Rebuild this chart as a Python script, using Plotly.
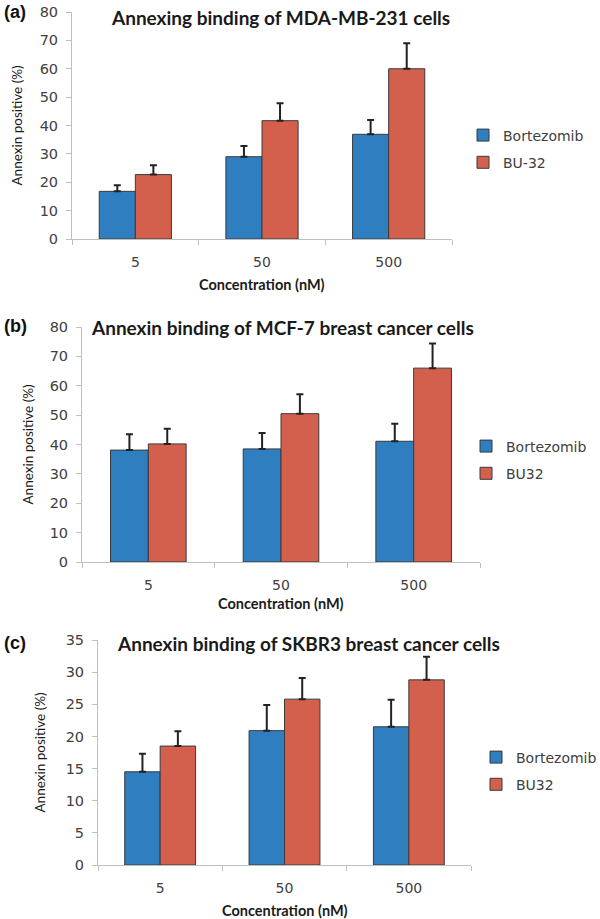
import plotly.graph_objects as go

# ---- data ----
concentrations = ["5", "50", "500"]

a_bortezomib = [16.8, 29.0, 36.9]
a_bortezomib_err = [2.1, 3.8, 5.0]
a_bu = [22.7, 41.7, 60.0]
a_bu_err = [3.3, 6.1, 9.0]

b_bortezomib = [38.1, 38.5, 41.1]
b_bortezomib_err = [5.4, 5.4, 6.0]
b_bu = [40.2, 50.5, 66.0]
b_bu_err = [5.2, 6.6, 8.4]

c_bortezomib = [14.5, 20.9, 21.5]
c_bortezomib_err = [2.8, 4.0, 4.2]
c_bu = [18.5, 25.8, 28.8]
c_bu_err = [2.3, 3.3, 3.6]

titles = ["Annexing binding of MDA-MB-231 cells",
          "Annexin binding of MCF-7 breast cancer cells",
          "Annexin binding of SKBR3 breast cancer cells"]
series2_names = ["BU-32", "BU32", "BU32"]
panel_letters = ["(a)", "(b)", "(c)"]
y_ranges = [[0, 80], [0, 80], [0, 35]]
y_dticks = [10, 10, 5]

W, H = 600, 919
BLUE = "#2F7EC0"
RED = "#D3604C"
EDGE = "#3a3a3a"
AXIS = "#BFBFBF"
TXT = "#404040"

# pixel layout of each panel: (left, right, top, bottom)
boxes = [(72, 452, 12, 239), (82, 480, 327, 562), (98, 471, 640, 865)]
title_pos = [(280, 18), (282, 327), (308, 643)]
ytitle_x = [17, 28, 39]
xtitle_y = [285, 603, 910]
letter_y = [12, 326, 643]
legend_pos = [(463, 149), (466, 460), (476, 771)]

def px(x):
    return x / W

def py(y):
    return 1 - y / H

fig = go.Figure()
data = [(a_bortezomib, a_bortezomib_err, a_bu, a_bu_err),
        (b_bortezomib, b_bortezomib_err, b_bu, b_bu_err),
        (c_bortezomib, c_bortezomib_err, c_bu, c_bu_err)]

annotations = []
for i, (bv, be, rv, re) in enumerate(data):
    sfx = "" if i == 0 else str(i + 1)
    leg = "legend" + sfx
    for name, vals, errs, col, grp in [("Bortezomib", bv, be, BLUE, "g1"),
                                        (series2_names[i], rv, re, RED, "g2")]:
        fig.add_trace(go.Bar(
            x=concentrations, y=vals, name=name,
            marker=dict(color=col, line=dict(color=EDGE, width=1)),
            error_y=dict(type="data", array=errs, arrayminus=[0] * len(errs),
                         symmetric=False, color="#222222", thickness=2, width=3.5),
            xaxis="x" + sfx, yaxis="y" + sfx, legend=leg, legendgroup=grp + sfx,
        ))
    l, r, t, b = boxes[i]
    fig.update_layout(**{
        "xaxis" + sfx: dict(
            domain=[px(l), px(r)], anchor="y" + sfx, type="category",
            showline=True, linecolor=AXIS, linewidth=1, automargin=False,
            ticks="outside", tickson="boundaries", ticklen=5, tickcolor=AXIS,
            tickfont=dict(family="DejaVu Sans", size=14, color=TXT),
            ticklabelstandoff=10, showgrid=False, zeroline=False, fixedrange=True),
        "yaxis" + sfx: dict(
            domain=[py(b), py(t)], anchor="x" + sfx, range=y_ranges[i],
            dtick=y_dticks[i], showline=True, linecolor=AXIS, linewidth=1,
            automargin=False,
            ticks="outside", ticklen=5, tickcolor=AXIS,
            tickfont=dict(family="DejaVu Sans", size=14.5, color=TXT),
            ticklabelstandoff=5, showgrid=False, zeroline=False, fixedrange=True),
        leg: dict(x=px(legend_pos[i][0]), y=py(legend_pos[i][1]),
                  xanchor="left", yanchor="middle", bgcolor="rgba(0,0,0,0)",
                  font=dict(family="DejaVu Sans", size=14, color=TXT),
                  traceorder="grouped", tracegroupgap=6),
    })
    annotations += [
        dict(text="<b>" + titles[i] + "</b>", x=px(title_pos[i][0]), y=py(title_pos[i][1]),
             xref="paper", yref="paper", showarrow=False, xanchor="center", yanchor="middle",
             font=dict(family="Lato", size=19, color="#1a1a1a")),
        dict(text="Annexin positive (%)", x=px(ytitle_x[i]), y=py((t + b) / 2),
             xref="paper", yref="paper", showarrow=False, textangle=-90,
             xanchor="center", yanchor="middle",
             font=dict(family="Lato", size=13.5, color="#1a1a1a")),
        dict(text="<b>Concentration (nM)</b>", x=px((l + r) / 2), y=py(xtitle_y[i]),
             xref="paper", yref="paper", showarrow=False, xanchor="center", yanchor="middle",
             font=dict(family="Lato", size=14.5, color="#1a1a1a")),
        dict(text="<b>" + panel_letters[i] + "</b>", x=px(2), y=py(letter_y[i]),
             xref="paper", yref="paper", showarrow=False, xanchor="left", yanchor="middle",
             font=dict(family="Liberation Sans", size=18, color="#111111")),
    ]

fig.update_layout(
    width=W, height=H, margin=dict(l=0, r=0, t=0, b=0, autoexpand=False),
    paper_bgcolor="white", plot_bgcolor="white",
    barmode="group", bargap=0.43, bargroupgap=0,
    annotations=annotations, showlegend=True,
)

fig.write_html("out.html", config={"displayModeBar": False},
               post_script="document.body.style.margin='0px';")
